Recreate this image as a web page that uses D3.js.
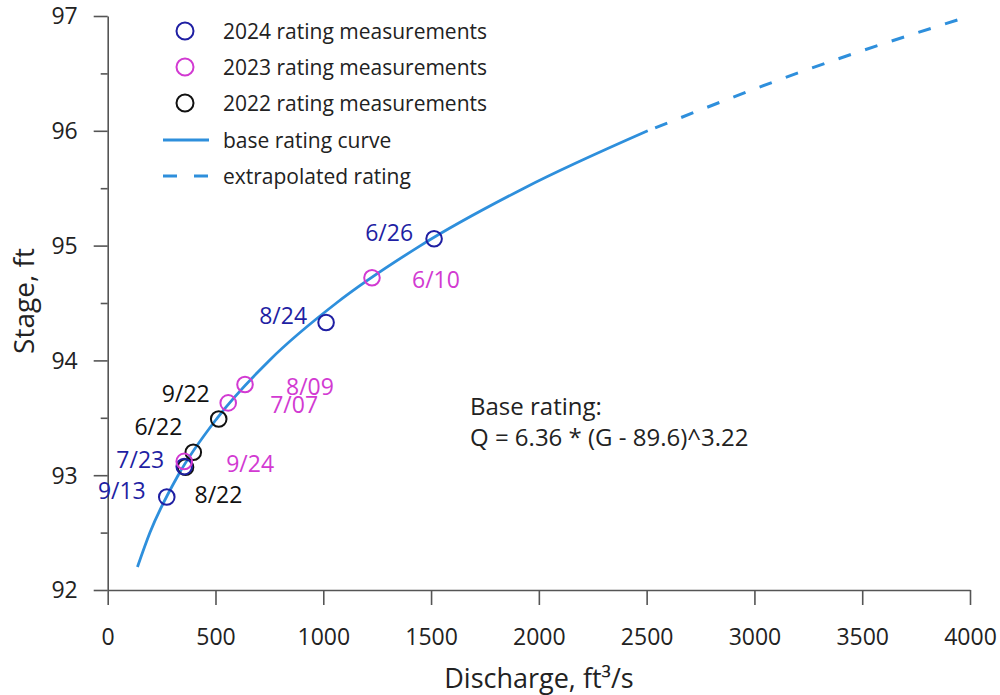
<!DOCTYPE html>
<html><head><meta charset="utf-8">
<script src="https://cdn.jsdelivr.net/npm/d3@7"></script>
<style>body{margin:0;background:#fff}svg{display:block}text{font-family:"Open Sans",sans-serif}</style>
</head><body>
<svg id="c" width="1000" height="695"></svg>
<script>
// ---- data ----
const xTicks = [0,500,1000,1500,2000,2500,3000,3500,4000];
const yTicks = [92,93,94,95,96,97];
const series = ["2024","2023","2022"];
const seriesNames = ["2024 rating measurements","2023 rating measurements","2022 rating measurements"];
const pointLabels = ["6/26","8/24","7/23","9/13","6/10","8/09","7/07","9/24","9/22","6/22","8/22"];
const pointYear   = ["2024","2024","2024","2024","2023","2023","2023","2023","2022","2022","2022"];
const pointQ      = [1514,1013,355,274,1226,637,559,355,515,397,361];
const pointG      = [95.06,94.33,93.075,92.81,94.72,93.79,93.63,93.12,93.49,93.20,93.07];
const baseStage     = [92.2,92.5,93.0,93.5,94.0,94.5,95.0,95.5,96.0];
const baseDischarge = [138,196,327,509,750,1061,1451,1931,2505];
const extStage      = [96.0,96.5,97.0];
const extDischarge  = [2505,3196,4000];

// ---- styling / layout ----
const colors = {"2024":"#1f1fa3","2023":"#d23ad2","2022":"#111111"};
const curveColor = "#2e8fdc";
const labelOffsets = {
 "6/26":[-21,-7,"end"], "8/24":[-19,-8,"end"], "7/23":[-20,-8,"end"], "9/13":[-21,-7,"end"],
 "6/10":[40,1,"start"], "8/09":[41,1,"start"], "7/07":[42,1,"start"], "9/24":[42,2,"start"],
 "9/22":[-9,-26,"end"], "6/22":[-11,-26,"end"], "8/22":[9,27,"start"]
};
const svg = d3.select("#c");
const x = d3.scaleLinear().domain([0,4000]).range([107.7,970]);
const y = d3.scaleLinear().domain([92,97]).range([590,16]);
const axisCol = "#555";

// axes
const gx = svg.append("g").attr("transform","translate(0,590)")
  .call(d3.axisBottom(x).tickValues(xTicks).tickFormat(d3.format("d")).tickSize(15).tickPadding(24).tickSizeOuter(0));
const gy = svg.append("g").attr("transform","translate(107.7,0)")
  .call(d3.axisLeft(y).tickValues(yTicks).tickFormat(d3.format("d")).tickSize(14).tickPadding(16).tickSizeOuter(0));
// minor y ticks
const gym = svg.append("g").attr("transform","translate(107.7,0)")
  .call(d3.axisLeft(y).tickValues(d3.range(92.5,97,1)).tickSize(7).tickFormat(""));
gym.select(".domain").remove();
[gx,gy,gym].forEach(g=>{
  g.selectAll("path,line").attr("stroke",axisCol).attr("stroke-width",1.6);
  g.selectAll("text").attr("fill","#222").style("font-size","23px").style("font-family","'Open Sans',sans-serif");
});
gy.selectAll("text").attr("dy","0.34em");

svg.append("text").attr("x",539).attr("y",688).attr("text-anchor","middle")
  .attr("fill","#222").style("font-size","27px").text("Discharge, ft³/s");
svg.append("text").attr("transform","translate(34,301) rotate(-90)").attr("text-anchor","middle")
  .attr("fill","#222").style("font-size","28px").text("Stage, ft");

// curves
const line = d3.line().x(d=>x(d[0])).y(d=>y(d[1])).curve(d3.curveMonotoneX);
svg.append("path").datum(baseDischarge.map((q,i)=>[q,baseStage[i]]))
  .attr("d",line).attr("fill","none").attr("stroke",curveColor).attr("stroke-width",2.8);
svg.append("path").datum(extDischarge.map((q,i)=>[q,extStage[i]]))
  .attr("d",line).attr("fill","none").attr("stroke",curveColor).attr("stroke-width",3)
  .attr("stroke-dasharray","13,15").attr("stroke-dashoffset",-8);

// points
const pts = pointLabels.map((l,i)=>({l,yr:pointYear[i],q:pointQ[i],g:pointG[i]}));
const order = ["2022","2024","2023"];
svg.append("g").selectAll("circle").data(pts.slice().sort((a,b)=>order.indexOf(a.yr)-order.indexOf(b.yr)))
  .join("circle").attr("cx",d=>x(d.q)).attr("cy",d=>y(d.g)).attr("r",7.8)
  .attr("fill","none").attr("stroke",d=>colors[d.yr]).attr("stroke-width",2);
svg.append("g").selectAll("text").data(pts).join("text")
  .attr("x",d=>x(d.q)+labelOffsets[d.l][0]).attr("y",d=>y(d.g)+labelOffsets[d.l][1])
  .attr("text-anchor",d=>labelOffsets[d.l][2]).attr("dominant-baseline","central")
  .attr("fill",d=>colors[d.yr]).style("font-size","23px").text(d=>d.l);

// legend
const lg = svg.append("g");
series.forEach((s,i)=>{
  const yy = 31 + i*36;
  lg.append("circle").attr("cx",185).attr("cy",yy).attr("r",8.5).attr("fill","none")
    .attr("stroke",colors[s]).attr("stroke-width",2);
  lg.append("text").attr("x",223).attr("y",yy).attr("dominant-baseline","central")
    .attr("fill","#222").style("font-size","21px").text(seriesNames[i]);
});
lg.append("line").attr("x1",163).attr("x2",209).attr("y1",140).attr("y2",140)
  .attr("stroke",curveColor).attr("stroke-width",3);
lg.append("text").attr("x",223).attr("y",140).attr("dominant-baseline","central")
  .attr("fill","#222").style("font-size","21px").text("base rating curve");
lg.append("line").attr("x1",163).attr("x2",209).attr("y1",176).attr("y2",176)
  .attr("stroke",curveColor).attr("stroke-width",3).attr("stroke-dasharray","14,17");
lg.append("text").attr("x",223).attr("y",176).attr("dominant-baseline","central")
  .attr("fill","#222").style("font-size","21px").text("extrapolated rating");

// annotation
svg.append("text").attr("x",470).attr("y",415).attr("fill","#222").style("font-size","24px").text("Base rating:");
svg.append("text").attr("x",470).attr("y",446).attr("fill","#222").style("font-size","24px").text("Q = 6.36 * (G - 89.6)^3.22");
</script>
</body></html>
